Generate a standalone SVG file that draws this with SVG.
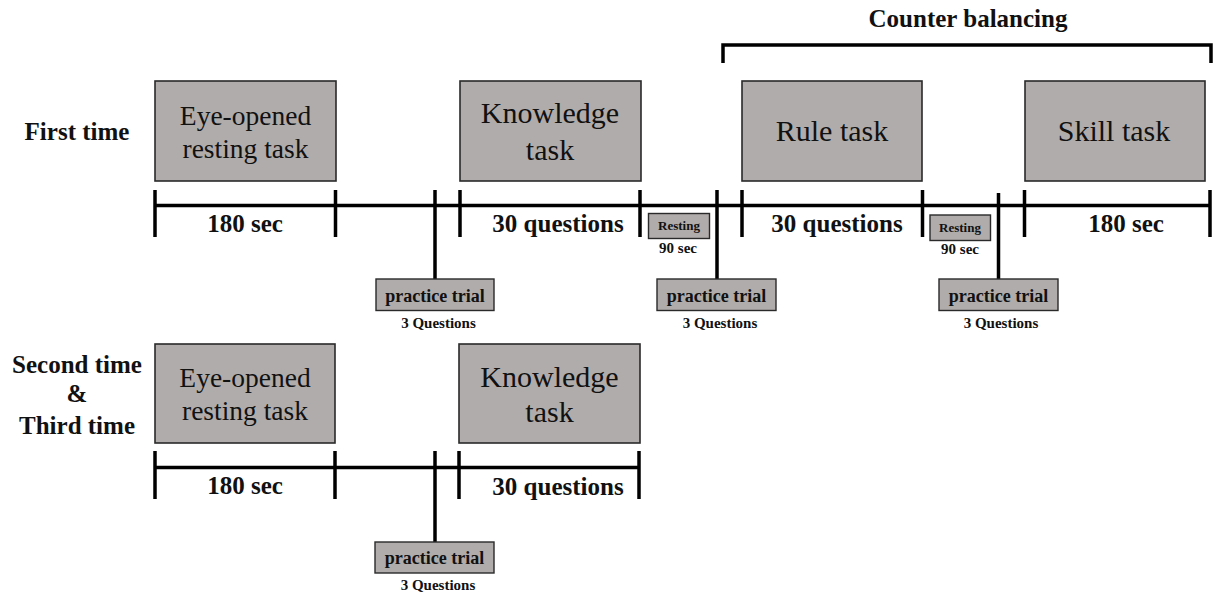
<svg xmlns="http://www.w3.org/2000/svg" width="1214" height="597" viewBox="0 0 1214 597">
  <style>
    text { font-family: "Liberation Serif", "Times New Roman", serif; fill: #111; text-anchor: middle; }
    .lbl { font-weight: bold; font-size: 25px; }
    .task { fill: #b0acab; stroke: #2a2a2a; stroke-width: 1.6; }
    .tt { font-size: 30px; }
    .tt2 { font-size: 27.5px; }
    .small { fill: #b0acab; stroke: #2a2a2a; stroke-width: 1.4; }
    .pt { font-weight: bold; font-size: 18px; }
    .q { font-weight: bold; font-size: 15px; }
    .rs { font-weight: bold; font-size: 13px; }
    .line { stroke: #000; stroke-width: 3.5; fill: none; }
  </style>

  <!-- row labels -->
  <text class="lbl" x="77" y="140">First time</text>
  <text class="lbl" x="77" y="373">Second time</text>
  <text class="lbl" x="77" y="402">&amp;</text>
  <text class="lbl" x="77" y="434">Third time</text>

  <!-- counterbalancing bracket -->
  <g id="counter-balancing">
    <text class="lbl" x="968" y="27">Counter balancing</text>
    <path class="line" d="M723,63 V45 H1211 V63"/>
  </g>

  <!-- first session tasks -->
  <g id="eye-resting-1">
    <rect class="task" x="155" y="81" width="181" height="100"/>
    <text class="tt2" x="245.5" y="125">Eye-opened</text>
    <text class="tt2" x="245.5" y="158">resting task</text>
  </g>
  <g id="knowledge-1">
    <rect class="task" x="460" y="81" width="181" height="100"/>
    <text class="tt" x="550" y="123">Knowledge</text>
    <text class="tt" x="550" y="160">task</text>
  </g>
  <g id="rule-task">
    <rect class="task" x="742" y="81" width="180" height="100"/>
    <text class="tt" x="832" y="141">Rule task</text>
  </g>
  <g id="skill-task">
    <rect class="task" x="1025" y="81" width="180" height="100"/>
    <text class="tt" x="1114" y="141">Skill task</text>
  </g>

  <!-- second / third session tasks -->
  <g id="eye-resting-2">
    <rect class="task" x="155" y="344" width="180" height="99"/>
    <text class="tt2" x="245" y="387">Eye-opened</text>
    <text class="tt2" x="245" y="420">resting task</text>
  </g>
  <g id="knowledge-2">
    <rect class="task" x="459" y="344" width="181" height="99"/>
    <text class="tt" x="549.5" y="387">Knowledge</text>
    <text class="tt" x="549.5" y="422">task</text>
  </g>

  <!-- timelines and ticks -->
  <g id="connectors">
    <path class="line" d="M155,205.5 H1210"/>
    <path class="line" d="M155,190 V237 M335.5,190 V237 M460,190 V237 M640,190 V237 M742,190 V237 M922.5,190 V237 M1024.5,190 V237 M1210,190 V237"/>
    <path class="line" d="M435,190 V279 M717,190 V279 M998.5,193 V279"/>

    <path class="line" d="M155,467.5 H640"/>
    <path class="line" d="M155,451 V499 M335,451 V499 M459,451 V499 M639,451 V499"/>
    <path class="line" d="M435,451 V542"/>
  </g>

  <!-- timeline durations -->
  <g id="durations-1">
    <text class="lbl" x="245" y="232">180 sec</text>
    <text class="lbl" x="558" y="232">30 questions</text>
    <text class="lbl" x="837" y="232">30 questions</text>
    <text class="lbl" x="1126" y="232">180 sec</text>
  </g>
  <g id="durations-2">
    <text class="lbl" x="245" y="494">180 sec</text>
    <text class="lbl" x="558" y="495">30 questions</text>
  </g>

  <!-- resting breaks -->
  <g id="resting-1">
    <rect class="small" x="648.5" y="213.5" width="61" height="25"/>
    <text class="rs" x="679" y="230">Resting</text>
    <text class="q" x="678" y="252.5">90 sec</text>
  </g>
  <g id="resting-2">
    <rect class="small" x="930" y="215" width="60.5" height="25.5"/>
    <text class="rs" x="960" y="232">Resting</text>
    <text class="q" x="960" y="254">90 sec</text>
  </g>

  <!-- practice trials -->
  <g id="practice-1">
    <rect class="small" x="376" y="279" width="118" height="31.5"/>
    <text class="pt" x="435" y="301.5">practice trial</text>
    <text class="q" x="438.5" y="327.5">3 Questions</text>
  </g>
  <g id="practice-2">
    <rect class="small" x="657" y="279" width="119" height="31.5"/>
    <text class="pt" x="716.5" y="301.5">practice trial</text>
    <text class="q" x="720" y="328">3 Questions</text>
  </g>
  <g id="practice-3">
    <rect class="small" x="939" y="279" width="119" height="31.5"/>
    <text class="pt" x="998.5" y="301.5">practice trial</text>
    <text class="q" x="1001" y="328">3 Questions</text>
  </g>
  <g id="practice-4">
    <rect class="small" x="375" y="542" width="119" height="31"/>
    <text class="pt" x="434.5" y="563.5">practice trial</text>
    <text class="q" x="438" y="590">3 Questions</text>
  </g>
</svg>
